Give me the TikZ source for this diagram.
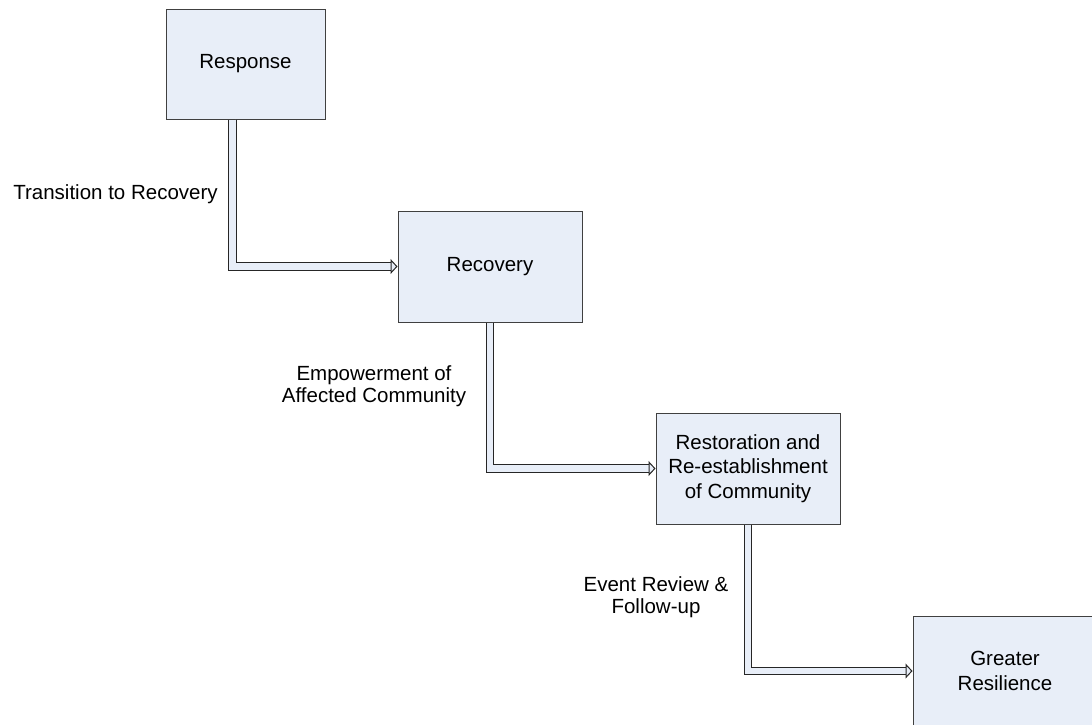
\documentclass[tikz,border=0pt]{standalone}
\usepackage{fontspec}
\setmainfont{Liberation Sans}
\usetikzlibrary{arrows.meta, positioning, calc}
\definecolor{boxfill}{HTML}{E8EEF8}
\definecolor{boxline}{HTML}{404040}

\begin{document}
\begin{tikzpicture}[x=1pt, y=-1pt,
    phase/.style={draw=boxline, fill=boxfill, line width=1pt,
      minimum width=184pt, minimum height=111pt, align=center,
      inner sep=2pt, font=\fontsize{20.5}{24.5}\selectfont},
    steplabel/.style={align=center, font=\fontsize{20.5}{22}\selectfont},
    flow/.style={draw=black!85, line width=1.1pt, double=boxfill,
      double distance=6.5pt,
      -{Triangle[fill=boxfill, length=7pt, width=15pt, line width=1pt]}}]
      % page frame, in pixels of the original
      \useasboundingbox (0,0) rectangle (1092,724);
      \clip (0,0) rectangle (1092,724);

      % the four phases
      \node[phase, minimum width=159pt, minimum height=110pt] (response) at (245.5,64) {Response};
      \node[phase] (recovery) at (490,266.5) {Recovery};
      \node[phase] (restore) at (748,468.5) {Restoration and\\Re-establishment\\of Community};
      \node[phase, minimum height=110pt] (resilience) at (1005,671) {Greater\\Resilience};

      % transitions between phases
      \draw[flow] ([xshift=-13pt]response.south) |- (recovery.west);
      \draw[flow] (recovery.south) |- (restore.west);
      \draw[flow] (restore.south) |- (resilience.west);

      % what drives each transition
      \node[steplabel] (tolabel) at (115.5,194) {Transition to Recovery};
      \node[steplabel] (emplabel) at (374,386) {Empowerment of\\Affected Community};
      \node[steplabel] (revlabel) at (656,597) {Event Review \&\\Follow-up};
    \end{tikzpicture}
\end{document}
